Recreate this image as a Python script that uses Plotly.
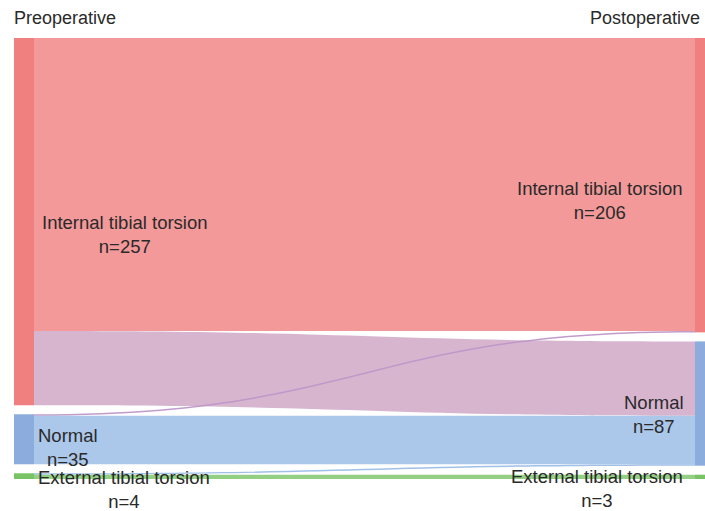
import plotly.graph_objects as go

# ---- data ----
node_labels = ["Internal tibial torsion", "Normal", "External tibial torsion",
               "Internal tibial torsion", "Normal", "External tibial torsion"]
node_counts = [257, 35, 4, 206, 87, 3]
column_titles = ["Preoperative", "Postoperative"]

link_source = [0, 0, 1, 1, 2, 2]
link_target = [3, 4, 3, 4, 4, 5]
link_value = [205, 52, 1, 34, 1, 3]

# ---- styles ----
node_colors = ["rgb(240,128,128)", "rgb(140,172,222)", "rgb(120,196,100)",
               "rgb(240,128,128)", "rgb(140,172,222)", "rgb(120,196,100)"]
link_colors = ["rgba(240,128,128,0.8)", "rgba(205,162,195,0.8)", "rgba(190,150,200,0.95)",
               "rgba(150,185,228,0.8)", "rgba(150,185,228,0.9)", "rgba(120,196,100,0.8)"]

W, H = 705, 511
top_px, bot_px = 38, 479
pad = 9
dom_h = bot_px - top_px
ky = (dom_h - 2 * pad) / 296.0

def centers(vals):
    out, y = [], 0.0
    for v in vals:
        h = v * ky
        out.append((y + h / 2) / dom_h)
        y += h + pad
    return out

node_y = centers(node_counts[:3]) + centers(node_counts[3:])
node_x = [24 / W] * 3 + [1.0] * 3

fig = go.Figure(go.Sankey(
    arrangement="fixed",
    domain=dict(x=[0, 1], y=[1 - bot_px / H, 1 - top_px / H]),
    node=dict(label=node_labels, x=node_x, y=node_y, pad=pad, thickness=20,
              color=node_colors, line=dict(width=0)),
    link=dict(source=link_source, target=link_target, value=link_value,
              color=link_colors, line=dict(width=0)),
    textfont=dict(color="rgba(0,0,0,0)", size=1),
))

font = dict(family="Liberation Sans, Arial, sans-serif", size=18.5, color="#2a2a2a")
label_pos = [(125, 234), (68, 447), (124, 489), (600, 200), (654, 414), (597, 488)]
for lab, n, (px, py) in zip(node_labels, node_counts, label_pos):
    fig.add_annotation(x=px / W, y=1 - py / H, xref="paper", yref="paper",
                       text=f"{lab}<br>n={n}", showarrow=False, align="center",
                       xanchor="center", yanchor="middle", font=font)

title_font = dict(font, size=18)
fig.add_annotation(x=12 / W, y=1 - 18 / H, xref="paper", yref="paper", text=column_titles[0],
                   showarrow=False, xanchor="left", yanchor="middle", font=title_font)
fig.add_annotation(x=702 / W, y=1 - 18 / H, xref="paper", yref="paper", text=column_titles[1],
                   showarrow=False, xanchor="right", yanchor="middle", font=title_font)

fig.update_layout(width=W, height=H, margin=dict(l=0, r=0, t=0, b=0),
                  paper_bgcolor="white", plot_bgcolor="white")
fig.write_html("out.html", config={"displayModeBar": False})

with open("out.html", "r", encoding="utf-8") as f:
    html = f.read()
html = html.replace("<head>", "<head><style>html,body{margin:0;padding:0;overflow:hidden;}</style>", 1)
with open("out.html", "w", encoding="utf-8") as f:
    f.write(html)
